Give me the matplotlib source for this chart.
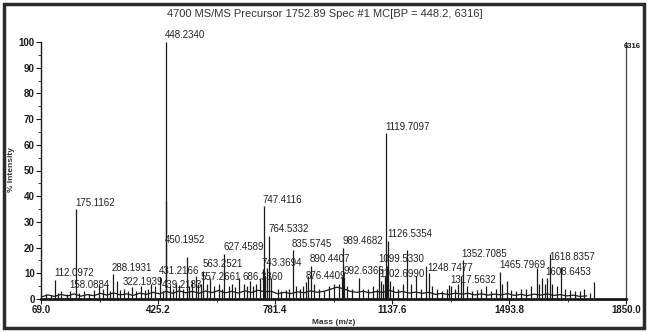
import matplotlib

matplotlib.use("Agg")
import matplotlib.pyplot as plt
from matplotlib.patches import Rectangle
from matplotlib.ticker import FixedLocator, MultipleLocator

TITLE = "4700 MS/MS Precursor 1752.89 Spec #1 MC[BP = 448.2, 6316]"
BP_COUNTS = "6316"

# labelled peaks: m/z (from the annotation) and % intensity
LABEL_MZ = [112.0972, 158.0884, 175.1162, 288.1931, 322.1939, 431.2166, 439.2183,
            448.2340, 450.1952, 557.2661, 563.2521, 627.4589, 686.3360, 743.3694,
            747.4116, 764.5332, 835.5745, 876.4409, 890.4407, 989.4682, 992.6366,
            1099.5330, 1102.6990, 1119.7097, 1126.5354, 1248.7477, 1317.5632,
            1352.7085, 1465.7969, 1608.6453, 1618.8357]
LABEL_INT = [7.5, 3.0, 35.0, 9.7, 4.0, 8.5, 3.0,
             100.0, 4.0, 6.0, 11.0, 17.5, 6.0, 11.5,
             36.0, 24.5, 19.0, 6.5, 13.0, 20.0, 8.5,
             13.0, 7.0, 64.5, 22.6, 10.0, 5.0,
             15.0, 10.5, 8.0, 17.5]

# unlabelled peaks
MINOR_MZ = [84, 98, 120, 130, 147, 186, 200, 215, 230, 245, 258, 270, 280, 300, 310,
            335, 345, 358, 372, 385, 395, 405, 415, 449.24, 462, 470, 480, 490, 500,
            513, 520, 530, 540, 548, 575, 585, 597, 610, 620, 640, 650, 660, 672, 695,
            705, 715, 725, 735, 752, 758, 770, 790, 800, 815, 825, 845, 858, 868, 882,
            900, 915, 930, 945, 960, 975, 985, 1000, 1015, 1037, 1050, 1065, 1080,
            1092, 1110, 1116, 1123, 1132, 1140, 1155, 1170, 1183, 1195, 1210, 1225,
            1241, 1260, 1275, 1290, 1305, 1312, 1330, 1340, 1347, 1365, 1380, 1395,
            1410, 1425, 1440, 1455, 1472, 1487, 1500, 1515, 1530, 1545, 1560, 1579,
            1585, 1595, 1602, 1625, 1640, 1652, 1665, 1680, 1695, 1710, 1722, 1740,
            1752.9]
MINOR_INT = [2.0, 1.5, 2.5, 3.0, 2.0, 2.5, 3.0, 2.0, 3.5, 5.5, 4.0, 6.0, 3.0, 7.0, 3.5,
             3.0, 4.5, 3.0, 5.0, 3.5, 4.0, 6.0, 5.0, 38.0, 5.0, 4.0, 6.0, 5.5, 4.0,
             16.5, 5.0, 7.0, 9.0, 6.0, 6.0, 8.0, 5.0, 6.0, 4.0, 5.0, 6.0, 4.5, 8.0, 5.0,
             7.0, 5.0, 6.0, 8.0, 9.0, 12.0, 8.0, 4.0, 3.0, 3.5, 4.0, 5.0, 4.0, 5.0, 9.0,
             6.0, 4.0, 3.0, 5.0, 6.0, 6.0, 9.0, 5.0, 4.0, 8.0, 4.0, 4.0, 5.0,
             4.0, 6.0, 9.0, 13.0, 7.0, 5.0, 4.0, 6.0, 19.0, 6.0, 9.0, 4.0,
             13.0, 5.0, 4.0, 3.0, 4.0, 5.5, 4.0, 6.0, 9.0, 5.0, 3.0, 3.5,
             4.0, 5.0, 3.0, 4.0, 6.0, 7.0, 3.5, 3.0, 4.0, 4.0, 5.0, 12.0,
             6.0, 8.0, 6.0, 6.0, 5.0, 12.5, 4.0, 3.5, 3.0, 3.0, 4.0, 2.5,
             6.5]

# chemical noise baseline
BASE_MZ = [70, 90, 110, 130, 150, 170, 190, 210, 230, 250, 270, 290, 310, 330, 350,
           370, 390, 410, 430, 450, 470, 490, 510, 530, 550, 570, 590, 610, 630, 650,
           670, 690, 710, 730, 750, 770, 790, 810, 830, 850, 870, 890, 910, 930, 950,
           970, 990, 1010, 1030, 1050, 1070, 1090, 1110, 1130, 1150, 1170, 1190, 1210,
           1230, 1250, 1270, 1290, 1310, 1330, 1350, 1370, 1390, 1410, 1430, 1450,
           1470, 1490, 1510, 1530, 1550, 1570, 1590, 1610, 1630, 1650, 1670, 1690,
           1710, 1730]
BASE_INT = [0.8, 1.6, 1.0, 1.8, 1.2, 2.0, 1.1, 1.7, 1.3, 2.2, 1.5, 2.4, 1.6, 2.0, 1.4,
            2.3, 1.8, 2.6, 2.0, 3.0, 2.2, 3.2, 2.4, 3.0, 2.2, 3.1, 2.5, 3.3, 2.4, 3.0,
            2.3, 3.2, 2.5, 3.4, 2.8, 3.0, 2.0, 2.6, 2.1, 2.8, 2.4, 3.2, 2.6, 3.0, 3.8,
            4.6, 4.0, 3.0, 2.6, 3.0, 2.4, 2.9, 2.6, 3.4, 2.5, 2.9, 2.3, 2.7,
            2.2, 2.6, 1.8, 2.2, 1.7, 2.3, 1.9, 2.2, 1.6, 2.0, 1.5, 1.9,
            1.6, 2.1, 1.4, 1.8, 1.3, 1.9, 1.5, 2.0, 1.4, 1.7, 1.2, 1.5,
            1.0, 1.2]

X_TICKS = [69.0, 425.2, 781.4, 1137.6, 1493.8, 1850.0]

# a few labels are not sitting right on top of their stick
LABEL_Y_OVERRIDE = {"450.1952": 21.0, "1618.8357": 14.5, "1248.7477": 10.2}

FONT = ["Liberation Sans Narrow", "Liberation Sans", "DejaVu Sans"]
INK = "#1a1a1a"


def main():
    plt.rcParams["font.family"] = FONT
    fig = plt.figure(figsize=(6.48, 3.32), dpi=100)
    ax = fig.add_axes([41 / 648, 1 - 299 / 332, 585 / 648, 257 / 332])

    ax.plot(BASE_MZ, BASE_INT, color=INK, lw=0.9)
    ax.vlines(MINOR_MZ, 0, MINOR_INT, color=INK, lw=0.9)
    ax.vlines(LABEL_MZ, 0, LABEL_INT, color=INK, lw=0.9)

    for mz, h in zip(LABEL_MZ, LABEL_INT):
        txt = f"{mz:.4f}"
        y = LABEL_Y_OVERRIDE.get(txt, h + 0.6)
        ax.text(mz - 3, y, txt, fontsize=7, color="#222", ha="left", va="bottom",
                clip_on=False)

    ax.set_xlim(69.0, 1850.0)
    ax.set_ylim(0, 100)
    ax.xaxis.set_major_locator(FixedLocator(X_TICKS))
    ax.set_xticklabels([f"{t:.1f}" for t in X_TICKS])
    ax.xaxis.set_minor_locator(FixedLocator(
        [(a + b) / 2 for a, b in zip(X_TICKS[:-1], X_TICKS[1:])]))
    ax.yaxis.set_major_locator(MultipleLocator(10))
    ax.yaxis.set_minor_locator(MultipleLocator(5))
    ax.tick_params(axis="both", which="major", length=3.5, width=0.8, pad=1,
                   labelsize=7, colors=INK)
    ax.tick_params(axis="both", which="minor", length=2, width=0.6, colors=INK)
    for lab in ax.get_xticklabels() + ax.get_yticklabels():
        lab.set_fontweight("bold")

    ax.spines["top"].set_visible(False)
    ax.spines["left"].set_linewidth(1.0)
    ax.spines["bottom"].set_linewidth(2.0)
    ax.spines["right"].set_linewidth(0.9)
    ax.spines["right"].set_color("#444")
    for s in ("left", "bottom"):
        ax.spines[s].set_color(INK)

    ax.set_xlabel("Mass (m/z)", fontsize=6, fontweight="bold", labelpad=3, color="#333")
    fig.text(12 / 648, 1 - 170 / 332, "% Intensity", rotation=90, ha="center",
             va="center", fontsize=6, fontweight="bold", color="#333")

    fig.text(325 / 648, 1 - 14 / 332, TITLE, ha="center", va="center",
             fontsize=8, color="#333", family=["Liberation Sans", "DejaVu Sans"])
    fig.text(641 / 648, 1 - 47 / 332, BP_COUNTS, ha="right", va="center",
             fontsize=5.5, fontweight="bold", color=INK)

    fig.patches.append(Rectangle((4 / 648, 4 / 332), 640 / 648, 324 / 332,
                                 transform=fig.transFigure, fill=False,
                                 lw=2.5, ec="#2b2b2b"))
    fig.savefig("out.png", dpi=100)
    plt.close(fig)


if __name__ == "__main__":
    main()
